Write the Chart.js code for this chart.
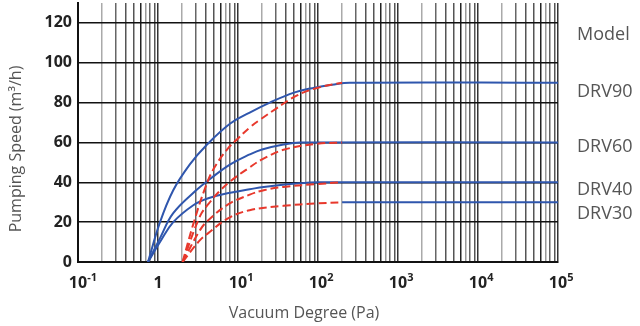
<!DOCTYPE html>
<html>
<head>
<meta charset="utf-8">
<script src="https://cdn.jsdelivr.net/npm/chart.js@4"></script>
<style>
  html, body { margin: 0; padding: 0; background: #fff; }
  canvas { display: block; }
</style>
</head>
<body>
<canvas id="pumpChart" width="640" height="326"></canvas>
<script>
// x tick labels (drawn as 10 + raised exponent)
const xTickValues = [0.1, 1, 10, 100, 1000, 10000, 100000];
const xTickBase = ['10', '1', '10', '10', '10', '10', '10'];
const xTickExp = ['-1', '', '1', '2', '3', '4', '5'];

const modelTitle = 'Model';
const models = ['DRV90', 'DRV60', 'DRV40', 'DRV30'];

// solid blue curves: pressure (Pa) / speed (m3/h)
const drv90SolidP = [0.75, 1.06, 1.55, 2.5, 4, 8, 14, 25, 50, 90, 150, 250, 100000];
const drv90SolidS = [0, 20, 36, 49, 58.5, 69.5, 75, 80, 85, 87.5, 89, 90, 90];
const drv60SolidP = [0.75, 1.06, 1.55, 3, 4.25, 8, 14, 20, 37, 60, 100000];
const drv60SolidS = [0, 12, 24.5, 36, 41, 49, 54, 56.5, 59, 60, 60];
const drv40SolidP = [0.75, 1.06, 1.55, 2.76, 4.25, 8, 14, 21, 59, 100, 100000];
const drv40SolidS = [0, 10, 20, 28.5, 32, 34.8, 36.5, 37.7, 39.5, 40, 40];
const drv30SolidP = [200, 100000];
const drv30SolidS = [30, 30];

// dashed red curves
const drv90DashP = [2.03, 2.76, 3.87, 5, 7.5, 10, 14, 19, 30, 54, 100, 200];
const drv90DashS = [0, 19, 37, 47, 57, 62, 67.5, 71.5, 77, 83.5, 87.5, 90];
const drv60DashP = [2.03, 3.35, 4.25, 5.7, 8, 14, 20, 37, 96, 200];
const drv60DashS = [0, 23, 29, 35, 40.5, 47.5, 51.5, 56.3, 59.3, 60];
const drv40DashP = [2.03, 3.35, 4.25, 7.6, 14, 21, 37, 96, 200];
const drv40DashS = [0, 16, 21, 29, 33.8, 36, 37.7, 39.1, 40];
const drv30DashP = [2.03, 3.35, 4.25, 7.6, 14, 37, 96, 200];
const drv30DashS = [0, 11, 14.5, 22, 26, 28.2, 29.4, 30];

function pts(p, s) {
    return p.map((x, i) => ({ x: x, y: s[i] }));
}

const RED = '#e8382c';
const BLUE = '#2f56ad';

function dashed(label, p, s) {
    return {
        label: label, data: pts(p, s), borderColor: RED, borderWidth: 2,
        borderDash: [8, 4], pointRadius: 0, fill: false, tension: 0.4
    };
}
function solid(label, p, s) {
    return {
        label: label, data: pts(p, s), borderColor: BLUE, borderWidth: 2,
        pointRadius: 0, fill: false, tension: 0.4
    };
}

// minor gridline shades per mantissa (scan looks uneven)
const mantissaColor = { 1: '#333', 2: '#aaa', 3: '#666', 4: '#555', 5: '#555', 6: '#222', 7: '#999', 8: '#666', 9: '#555' };

// text on canvas: x tick labels, axis titles, model names
const textPlugin = {
    id: 'texts',
    afterDraw(chart) {
        const ctx = chart.ctx;
        const xs = chart.scales.x;
        const ys = chart.scales.y;
        ctx.save();
        ctx.fillStyle = '#222';
        ctx.textBaseline = 'alphabetic';
        xTickValues.forEach((v, i) => {
            const px = xs.getPixelForValue(v);
            ctx.font = 'bold 16px "Open Sans"';
            const w = ctx.measureText(xTickBase[i]).width;
            ctx.textAlign = 'left';
            ctx.fillText(xTickBase[i], px - w / 2, 288);
            if (xTickExp[i]) {
                ctx.font = 'bold 11px "Open Sans"';
                ctx.fillText(xTickExp[i], px + w / 2, 281);
            }
        });
        ctx.fillStyle = '#555';
        ctx.font = '16px "Open Sans"';
        ctx.textAlign = 'center';
        ctx.textBaseline = 'middle';
        ctx.fillText('Vacuum Degree (Pa)', 304, 313);
        ctx.save();
        ctx.translate(16, 149);
        ctx.rotate(-Math.PI / 2);
        ctx.fillText('Pumping Speed (m\u00b3/h)', 0, 0);
        ctx.restore();
        ctx.font = '18px "Open Sans"';
        ctx.textAlign = 'left';
        const labelAt = [114, 85.3, 57.6, 36, 24.3];
        [modelTitle].concat(models).forEach((t, i) => {
            ctx.fillText(t, 577, ys.getPixelForValue(labelAt[i]));
        });
        ctx.restore();
    }
};

new Chart(document.getElementById('pumpChart'), {
    type: 'line',
    data: {
        datasets: [
            dashed('DRV90', drv90DashP, drv90DashS),
            dashed('DRV60', drv60DashP, drv60DashS),
            dashed('DRV40', drv40DashP, drv40DashS),
            dashed('DRV30', drv30DashP, drv30DashS),
            solid('DRV90', drv90SolidP, drv90SolidS),
            solid('DRV60', drv60SolidP, drv60SolidS),
            solid('DRV40', drv40SolidP, drv40SolidS),
            solid('DRV30', drv30SolidP, drv30SolidS)
        ]
    },
    options: {
        responsive: false,
        animation: false,
        devicePixelRatio: 1,
        layout: { padding: { left: 0, right: 82, top: 3, bottom: 0 } },
        plugins: { legend: { display: false }, tooltip: { enabled: false } },
        scales: {
            x: {
                type: 'logarithmic',
                min: 0.1,
                max: 100000,
                afterBuildTicks(scale) {
                    const t = [];
                    for (let e = -1; e < 5; e++) {
                        for (let m = 1; m <= 9; m++) t.push({ value: m * Math.pow(10, e) });
                    }
                    t.push({ value: 100000 });
                    scale.ticks = t;
                },
                afterFit(scale) { scale.height = 64; },
                ticks: { display: false },
                grid: {
                    drawTicks: false,
                    lineWidth: 1.5,
                    color(c) {
                        const v = c.tick ? c.tick.value : 1;
                        const m = Math.round(v / Math.pow(10, Math.floor(Math.log10(v) + 1e-9)));
                        return mantissaColor[m] || '#333';
                    }
                },
                border: { display: true, color: '#111', width: 2 }
            },
            y: {
                min: 0,
                max: 130,
                afterFit(scale) {
                    scale.width = 78;
                    scale.paddingTop = 0;
                    scale.paddingBottom = 0;
                },
                ticks: {
                    stepSize: 10,
                    padding: 6,
                    color: '#222',
                    font: { family: 'Open Sans', size: 16, weight: 'bold' },
                    callback: (v) => (v % 20 === 0 ? v : '')
                },
                grid: {
                    drawTicks: false,
                    lineWidth: 1.5,
                    color(c) {
                        const v = c.tick ? c.tick.value : 0;
                        if (v === 110) return '#999';
                        return v % 20 === 0 || v === 130 ? '#111' : '#555';
                    }
                },
                border: { display: true, color: '#111', width: 2 }
            }
        }
    },
    plugins: [textPlugin]
});
</script>
</body>
</html>
